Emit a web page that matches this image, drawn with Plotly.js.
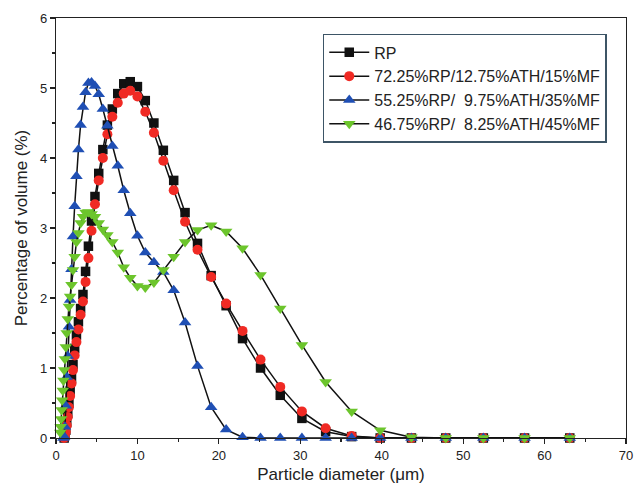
<!DOCTYPE html>
<html>
<head>
<meta charset="utf-8">
<script src="https://cdn.plot.ly/plotly-3.0.1.min.js"></script>
<style>html,body{margin:0;padding:0;background:#fff;}#chart{width:634px;height:493px;}</style>
</head>
<body>
<div id="chart"></div>
<script>
// Particle diameter bins (µm)
const diameter = [0.479, 0.525, 0.575, 0.631, 0.692, 0.759, 0.832, 0.912, 1.0, 1.096, 1.202, 1.318, 1.445, 1.585, 1.738, 1.905, 2.089, 2.291, 2.512, 2.754, 3.020, 3.311, 3.631, 3.981, 4.365, 4.786, 5.248, 5.754, 6.310, 6.918, 7.586, 8.318, 9.120, 10.0, 10.965, 12.023, 13.183, 14.454, 15.849, 17.378, 19.055, 20.893, 22.909, 25.119, 27.542, 30.200, 33.113, 36.308, 39.811, 43.652, 47.863, 52.481, 57.544, 63.096];

const seriesNames = ["RP", "72.25%RP/12.75%ATH/15%MF", "55.25%RP/\u00A0 9.75%ATH/35%MF", "46.75%RP/\u00A0 8.25%ATH/45%MF"];

const rp = [null, null, null, null, null, null, null, null,
  0.00, 0.04, 0.11, 0.22, 0.35, 0.50, 0.67, 0.85, 1.05, 1.28, 1.47, 1.66, 1.85, 2.05, 2.38, 2.74, 3.10, 3.45, 3.78, 4.12, 4.47, 4.70, 4.92, 5.06, 5.09, 5.02, 4.82, 4.50, 4.11, 3.68, 3.22, 2.78, 2.32, 1.89, 1.42, 1.00, 0.61, 0.28, 0.09, 0.02, 0, 0, 0, 0, 0, 0];

const mf15 = [null, null, null, null, null, null, null, null,
  0.00, 0.03, 0.09, 0.18, 0.30, 0.44, 0.60, 0.78, 0.97, 1.18, 1.37, 1.55, 1.76, 1.95, 2.23, 2.57, 2.96, 3.34, 3.68, 4.00, 4.34, 4.59, 4.79, 4.92, 4.96, 4.88, 4.66, 4.36, 3.96, 3.54, 3.09, 2.69, 2.30, 1.92, 1.53, 1.12, 0.73, 0.38, 0.14, 0.03, 0, 0, 0, 0, 0, 0];

const mf35 = [null, null, null, null, null, null, null,
  0.00, 0.02, 0.16, 0.46, 0.87, 1.17, 1.59, 1.97, 2.41, 2.88, 3.31, 3.74, 4.12, 4.47, 4.73, 4.94, 5.07, 5.08, 5.03, 4.91, 4.70, 4.46, 4.17, 3.89, 3.54, 3.21, 2.89, 2.65, 2.51, 2.37, 2.11, 1.65, 1.03, 0.44, 0.12, 0.01, 0, 0, 0, 0, 0, 0, 0, 0, 0, 0, 0];

const mf45 = [null,
  0.08, 0.16, 0.27, 0.40, 0.54, 0.68, 0.82, 0.97, 1.13, 1.30, 1.50, 1.70, 1.88, 2.02, 2.19, 2.40, 2.59, 2.80, 2.93, 3.07, 3.16, 3.22, 3.23, 3.20, 3.16, 3.07, 2.98, 2.90, 2.80, 2.65, 2.44, 2.29, 2.17, 2.15, 2.22, 2.40, 2.59, 2.80, 2.97, 3.04, 2.95, 2.71, 2.33, 1.85, 1.33, 0.80, 0.38, 0.11, 0.01, 0, 0, 0, 0];

const markerColors = ["#111111", "#f02a24", "#1f4fb4", "#6cc52c"];
const markerSymbols = ["square", "circle", "triangle-up", "triangle-down"];
const markerSizes = [9.5, 10, 11, 11];
const values = [rp, mf15, mf35, mf45];

const traces = values.map((v, i) => ({
  type: "scatter",
  mode: "lines+markers",
  x: diameter,
  y: v,
  name: seriesNames[i],
  cliponaxis: false,
  line: {color: "#111111", width: 1.5},
  marker: {symbol: markerSymbols[i], color: markerColors[i], size: markerSizes[i], line: {width: 0}}
}));

const axisCommon = {
  showline: true, linecolor: "#222", linewidth: 1.2, mirror: true,
  ticks: "outside", ticklen: 5, tickwidth: 1.2, tickcolor: "#222",
  showgrid: false, zeroline: false,
  tickfont: {family: "Liberation Sans, Arial, sans-serif", size: 13, color: "#222"}
};

const layout = {
  width: 634, height: 493,
  margin: {l: 56, r: 8, t: 18, b: 55},
  paper_bgcolor: "#fff", plot_bgcolor: "#fff",
  font: {family: "Liberation Sans, Arial, sans-serif", color: "#222"},
  xaxis: Object.assign({}, axisCommon, {
    range: [0, 70], dtick: 10, tick0: 0,
    minor: {dtick: 5, ticks: "outside", ticklen: 3, tickwidth: 1.2, tickcolor: "#222"},
    title: {text: "Particle diameter (\u03bcm)", font: {size: 17, color: "#222"}, standoff: 6}
  }),
  yaxis: Object.assign({}, axisCommon, {
    range: [0, 6], dtick: 1, tick0: 0,
    minor: {dtick: 0.5, ticks: "outside", ticklen: 3, tickwidth: 1.2, tickcolor: "#222"},
    title: {text: "Percentage of volume (%)", font: {size: 17, color: "#222"}, standoff: 8}
  }),
  legend: {
    x: 0.468, y: 0.962, xanchor: "left", yanchor: "top",
    bgcolor: "#fff", bordercolor: "#3d5566", borderwidth: 1.5,
    font: {size: 16, color: "#222"},
    itemwidth: 40,
    tracegroupgap: 0
  },
  showlegend: true
};

Plotly.newPlot("chart", traces, layout, {displayModeBar: false, staticPlot: true});
</script>
</body>
</html>
